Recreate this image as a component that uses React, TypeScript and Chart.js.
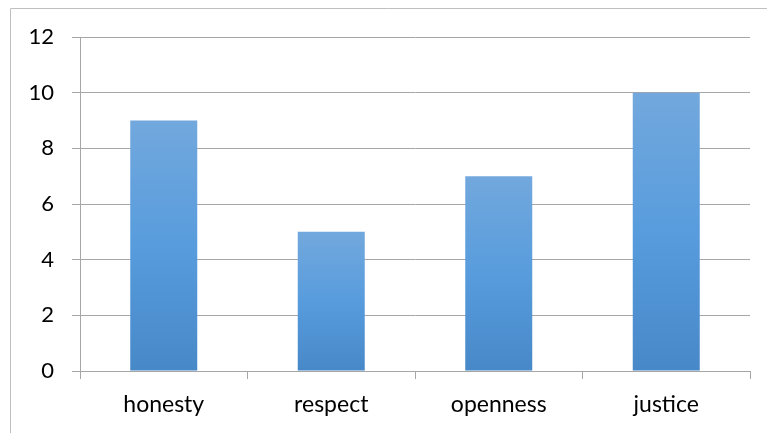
import React, { useEffect, useRef } from "react";
import { Chart, registerables } from "chart.js";

Chart.register(...registerables);

const categories = ["honesty", "respect", "openness", "justice"];
const values = [9, 5, 7, 10];
const yMin = 0;
const yMax = 12;
const yStep = 2;

const FONT = "Lato, 'Open Sans', sans-serif";
const GRID = "#a6a6a6";

const borderPlugin = {
  id: "outerBorder",
  beforeDraw(chart: any) {
    const ctx = chart.ctx;
    ctx.save();
    ctx.fillStyle = "#ffffff";
    ctx.fillRect(0, 0, chart.width, chart.height);
    ctx.strokeStyle = "#bfbfbf";
    ctx.lineWidth = 1;
    ctx.beginPath();
    ctx.moveTo(10.5, chart.height);
    ctx.lineTo(10.5, 8.5);
    ctx.lineTo(chart.width, 8.5);
    ctx.stroke();
    ctx.restore();
  },
};

export default function App() {
  const ref = useRef<HTMLCanvasElement>(null);

  useEffect(() => {
    document.body.style.margin = "0";
    const canvas = ref.current!;
    const chart = new Chart(canvas, {
      type: "bar",
      data: {
        labels: categories,
        datasets: [
          {
            data: values,
            backgroundColor: (c: any) => {
              const ch = c.chart;
              const ys = ch.scales && ch.scales.y;
              if (!ys || c.raw == null) return "#5b9bd5";
              const top = ys.getPixelForValue(c.raw);
              const bottom = ys.getPixelForValue(0);
              if (!isFinite(top) || !isFinite(bottom) || top === bottom) return "#5b9bd5";
              const g = ch.ctx.createLinearGradient(0, top, 0, bottom);
              g.addColorStop(0, "#72a8dd");
              g.addColorStop(0.5, "#589cdd");
              g.addColorStop(1, "#4788c8");
              return g;
            },
            borderWidth: 0,
            categoryPercentage: 0.4,
            barPercentage: 1,
          },
        ],
      },
      options: {
        responsive: false,
        animation: false,
        maintainAspectRatio: false,
        layout: { padding: { left: 0, right: 17, top: 37, bottom: 0 } },
        plugins: {
          legend: { display: false },
          tooltip: { enabled: false },
        },
        scales: {
          x: {
            grid: {
              display: true,
              drawOnChartArea: false,
              drawTicks: true,
              tickLength: 8,
              color: GRID,
              offset: true,
            },
            border: { display: true, color: GRID },
            ticks: {
              color: "#000000",
              font: { family: FONT, size: 23 },
              padding: 12,
              maxRotation: 0,
            },
            afterFit: (s: any) => {
              s.height = 62;
            },
          },
          y: {
            min: yMin,
            max: yMax,
            grid: {
              color: GRID,
              tickLength: 8,
              drawTicks: true,
            },
            border: { display: true, color: GRID },
            ticks: {
              stepSize: yStep,
              color: "#000000",
              font: { family: FONT, size: 22 },
              padding: 18,
            },
            afterFit: (s: any) => {
              s.width = 80;
            },
          },
        },
      },
      plugins: [borderPlugin],
    });
    return () => chart.destroy();
  }, []);

  return (
    <canvas
      ref={ref}
      width={767}
      height={433}
      style={{ display: "block", width: "767px", height: "433px" }}
    />
  );
}
